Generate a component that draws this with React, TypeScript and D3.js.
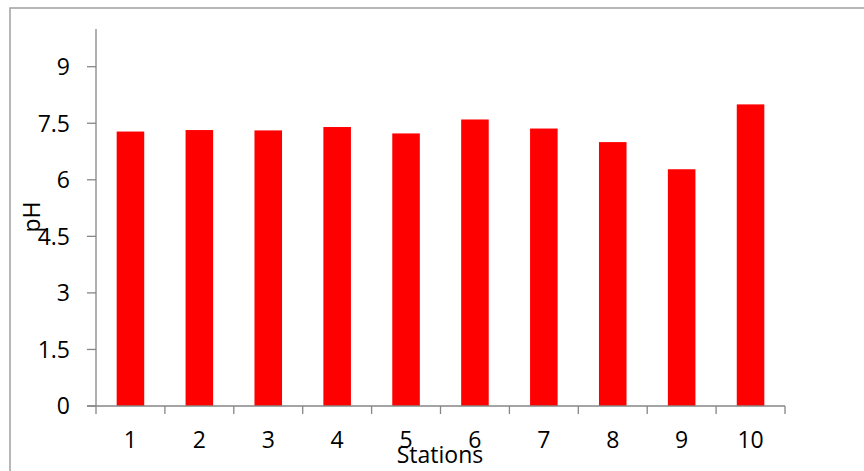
import React from "react";
import * as d3 from "d3";

const stations = ["1", "2", "3", "4", "5", "6", "7", "8", "9", "10"];
const phValues = [7.28, 7.32, 7.31, 7.4, 7.23, 7.6, 7.36, 7.0, 6.28, 8.0];
const yTicks = [0, 1.5, 3, 4.5, 6, 7.5, 9];
const yTickLabels = ["0", "1.5", "3", "4.5", "6", "7.5", "9"];

const W = 864;
const H = 471;
const plot = { left: 96, right: 785, top: 29, bottom: 406 };
const font = "'Open Sans', 'Noto Sans', sans-serif";
const fontSize = 23;
const axisColor = "#868686";

export default function App() {
  const x = d3
    .scaleBand<string>()
    .domain(stations)
    .range([plot.left, plot.right])
    .paddingInner(0.6)
    .paddingOuter(0.3);
  const y = d3.scaleLinear().domain([0, 10]).range([plot.bottom, plot.top]);
  const step = x.step();
  const boundaries = d3.range(stations.length + 1).map((i) => plot.left + i * step);

  return (
    <svg
      width={W}
      height={H}
      style={{ position: "absolute", left: 0, top: 0, display: "block", background: "#fff" }}
    >
      {/* chart frame */}
      <rect x={10} y={8} width={W + 20} height={H + 20} fill="none" stroke="#a0a0a0" strokeWidth={1.5} />

      {/* bars */}
      {stations.map((s, i) => (
        <rect
          key={s}
          x={x(s)}
          y={y(phValues[i])}
          width={x.bandwidth()}
          height={y(0) - y(phValues[i])}
          fill="#ff0000"
        />
      ))}

      {/* y axis */}
      <line x1={plot.left} x2={plot.left} y1={plot.top} y2={plot.bottom} stroke={axisColor} strokeWidth={1.3} />
      {yTicks.map((t, i) => (
        <g key={t}>
          <line x1={plot.left - 9} x2={plot.left} y1={y(t)} y2={y(t)} stroke={axisColor} strokeWidth={1.3} />
          <text
            x={70}
            y={y(t)}
            dy="0.36em"
            textAnchor="end"
            fontFamily={font}
            fontSize={fontSize}
            fill="#000"
          >
            {yTickLabels[i]}
          </text>
        </g>
      ))}

      {/* x axis */}
      <line x1={plot.left - 9} x2={plot.right} y1={plot.bottom} y2={plot.bottom} stroke={axisColor} strokeWidth={1.3} />
      {boundaries.map((bx, i) => (
        <line key={i} x1={bx} x2={bx} y1={plot.bottom} y2={plot.bottom + 8} stroke={axisColor} strokeWidth={1.3} />
      ))}
      {stations.map((s) => (
        <text
          key={s}
          x={(x(s) as number) + x.bandwidth() / 2}
          y={448}
          textAnchor="middle"
          fontFamily={font}
          fontSize={fontSize}
          fill="#000"
        >
          {s}
        </text>
      ))}

      {/* axis titles */}
      <text x={440} y={463} textAnchor="middle" fontFamily={font} fontSize={fontSize} fill="#000">
        Stations
      </text>
      <text
        transform="translate(40,217) rotate(-90)"
        textAnchor="middle"
        fontFamily={font}
        fontSize={fontSize}
        fill="#000"
      >
        pH
      </text>
    </svg>
  );
}
